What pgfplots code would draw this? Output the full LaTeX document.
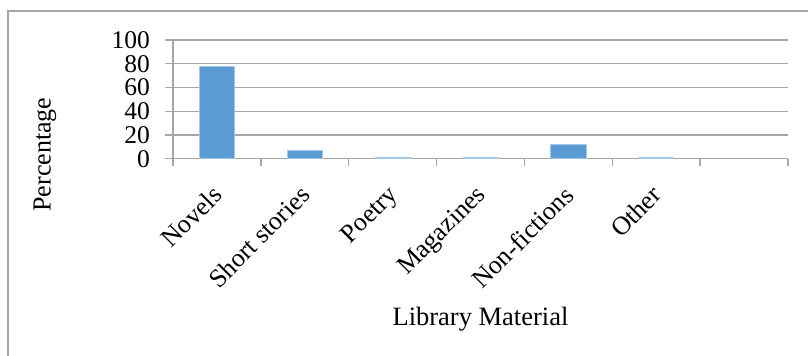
\documentclass[border=0pt]{standalone}
\usepackage{pgfplots}
\pgfplotsset{compat=1.18}
\usepackage{fontspec}
\setmainfont{Liberation Serif}
\definecolor{barblue}{HTML}{5B9BD5}
\definecolor{gridgray}{HTML}{A6A6A6}
\definecolor{framegray}{HTML}{A6A6A6}
\begin{document}
\fontsize{25bp}{30bp}\selectfont
\begin{tikzpicture}
\useasboundingbox (0,0) rectangle (808bp,356bp);
\draw[framegray, line width=1.3bp] (8bp,-2bp) -- (8bp,345bp) -- (810bp,345bp);
\begin{axis}[
  at={(173bp,197.25bp)}, anchor=south west,
  scale only axis, width=615bp, height=118.75bp,
  xmin=-0.5, xmax=6.5, ymin=0, ymax=100,
  ytick={0,20,...,100},
  xtick={0,...,5},
  xticklabels={Novels,Short stories,Poetry,Magazines,Non-fictions,Other},
  minor xtick={-0.5,0.5,...,6.5},
  major x tick style={draw=none},
  tick align=outside,
  major tick length=8bp, minor tick length=7bp,
  axis x line*=bottom, axis y line*=left,
  axis line style={gridgray, line width=1.3bp, -},
  every tick/.style={gridgray, line width=1.3bp},
  ymajorgrids, grid style={gridgray, line width=1.3bp},
  /pgf/number format/assume math mode=true,
  tick label style={font=\fontsize{25.5bp}{30bp}\selectfont, black},
  yticklabel style={anchor=east, inner sep=0pt, xshift=-15bp},
  xticklabel style={font=\fontsize{26bp}{30bp}\selectfont, xshift=-6bp, yshift=-17bp, rotate=45, anchor=north east, inner sep=0pt},
  xlabel={Library Material},
  xlabel style={at={(axis description cs:0.5,-1.40)}, anchor=base, font=\fontsize{26.5bp}{30bp}\selectfont},
  ylabel={Percentage},
  ylabel style={at={(axis description cs:-0.1990,0.035)}, anchor=base, font=\fontsize{26bp}{30bp}\selectfont},
]
\addplot[ybar, bar width=0.4, fill=barblue, draw=barblue!55!white, line width=0.8bp]
  coordinates {(0,77.5) (1,7) (2,1) (3,1) (4,12) (5,1)};
\end{axis}
\end{tikzpicture}
\end{document}
